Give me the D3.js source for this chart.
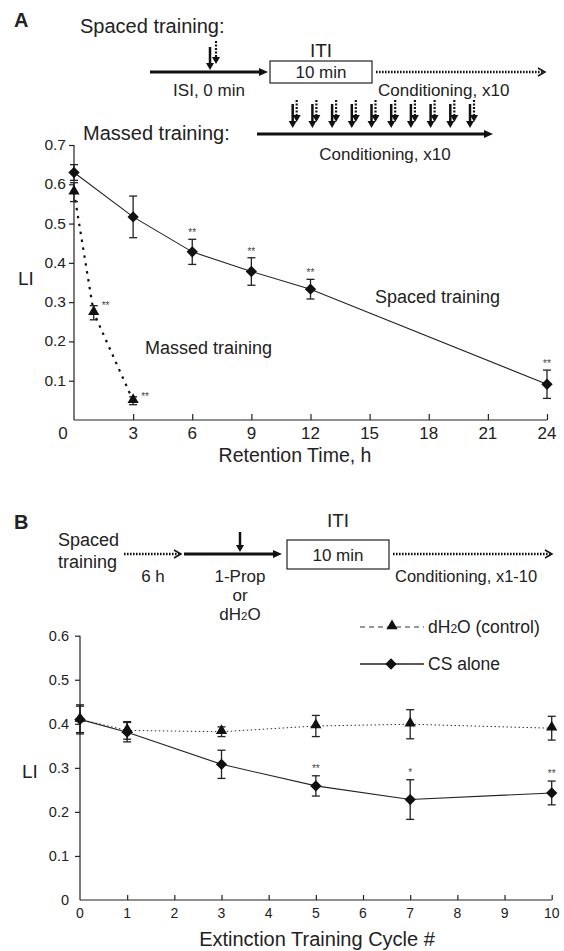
<!DOCTYPE html>
<html>
<head>
<meta charset="utf-8">
<script src="https://cdn.jsdelivr.net/npm/d3@7"></script>
<style>
  body { margin: 0; background: #fff; }
  svg { font-family: "Liberation Sans", Arial, sans-serif; fill: #222; }
  .axis path, .axis line { stroke: #222; stroke-width: 1.2; }
  .star { font-size: 10px; fill: #444; }
</style>
</head>
<body>
<div id="chart"></div>
<script>
// ---- panel A data ----
var retentionTicks = [0, 3, 6, 9, 12, 15, 18, 21, 24];
var liTicksA = [0.1, 0.2, 0.3, 0.4, 0.5, 0.6, 0.7];
var spacedHours = [0, 3, 6, 9, 12, 24];
var spacedLI = [0.63, 0.517, 0.428, 0.378, 0.333, 0.091];
var spacedErr = [0.02, 0.053, 0.032, 0.035, 0.025, 0.036];
var spacedSig = ["", "", "**", "**", "**", "**"];
var massedHours = [0, 1, 3];
var massedLI = [0.58, 0.273, 0.049];
var massedErr = [0.024, 0.018, 0.01];
var massedSig = ["", "**", "**"];

// ---- panel B data ----
var cycleTicks = [0, 1, 2, 3, 4, 5, 6, 7, 8, 9, 10];
var liTicksB = [0, 0.1, 0.2, 0.3, 0.4, 0.5, 0.6];
var cycles = [0, 1, 3, 5, 7, 10];
var csAloneLI = [0.41, 0.381, 0.308, 0.259, 0.228, 0.243];
var csAloneErr = [0.033, 0.022, 0.032, 0.023, 0.045, 0.027];
var csAloneSig = ["", "", "", "**", "*", "**"];
var waterLI = [0.41, 0.385, 0.382, 0.395, 0.399, 0.39];
var waterErr = [0.03, 0.02, 0.011, 0.024, 0.033, 0.027];

var w = 564, h = 951;
var svg = d3.select("#chart").append("svg")
    .attr("width", w)
    .attr("height", h);

var diamond = d3.symbol().type(d3.symbolSquare).size(64);
var triangle = d3.symbol().type(d3.symbolTriangle).size(55);

// little helpers for the protocol diagrams
function text(x, y, str, size, anchor, weight) {
    return svg.append("text")
        .attr("x", x).attr("y", y)
        .attr("font-size", size)
        .attr("text-anchor", anchor || "start")
        .attr("font-weight", weight || "normal")
        .text(str);
}
function solidArrow(x1, x2, y) { // horizontal, filled head
    svg.append("line").attr("x1", x1).attr("x2", x2 - 6).attr("y1", y).attr("y2", y)
        .attr("stroke", "#111").attr("stroke-width", 3);
    svg.append("path").attr("d", "M" + x2 + "," + y + "l-9,-4l0,8z").attr("fill", "#111");
}
function dottedArrow(x1, x2, y) { // horizontal, chevron head
    svg.append("line").attr("x1", x1).attr("x2", x2 - 2).attr("y1", y).attr("y2", y)
        .attr("stroke", "#111").attr("stroke-width", 2.5).attr("stroke-dasharray", "1.6,1.4");
    svg.append("path").attr("d", "M" + (x2 - 7) + "," + (y - 4) + "L" + x2 + "," + y + "L" + (x2 - 7) + "," + (y + 4))
        .attr("fill", "none").attr("stroke", "#111").attr("stroke-width", 1.5);
}
function downArrow(x, y1, y2, dotted) {
    svg.append("line").attr("x1", x).attr("x2", x).attr("y1", y1).attr("y2", y2 - 5)
        .attr("stroke", "#111").attr("stroke-width", dotted ? 2.2 : 2.5)
        .attr("stroke-dasharray", dotted ? "2,1.5" : null);
    svg.append("path").attr("d", "M" + x + "," + y2 + "l-4,-7l8,0z").attr("fill", "#111");
}

////////////////////////////////////////////////////////////
// PANEL A protocol diagram
text(14, 27, "A", 20, "start", "bold");
text(80, 33, "Spaced training:", 20);
text(321, 57, "ITI", 19, "middle");
solidArrow(150, 268, 72);
downArrow(210, 47, 70, false);
downArrow(216, 41, 64, true);
svg.append("rect").attr("x", 270).attr("y", 61).attr("width", 102).attr("height", 22)
    .attr("fill", "none").attr("stroke", "#222").attr("stroke-width", 1.2);
text(321, 78, "10 min", 17, "middle");
dottedArrow(376, 545, 72);
text(209, 96, "ISI, 0 min", 17, "middle");
text(378, 96, "Conditioning, x10", 17);

text(83, 140, "Massed training:", 20);
solidArrow(257, 493, 134);
d3.range(10).forEach(function (i) {
    var x = 292.7 + i * 19.7;
    downArrow(x, 104, 128, false);
    downArrow(x + 4, 100, 122, true);
});
text(385, 160, "Conditioning, x10", 17, "middle");

////////////////////////////////////////////////////////////
// PANEL A plot
var xA = d3.scaleLinear().domain([0, 24]).range([74, 547]);
var yA = d3.scaleLinear().domain([0, 0.7]).range([420, 145]);

svg.append("g").attr("class", "axis")
    .attr("transform", "translate(0," + yA(0) + ")")
    .call(d3.axisBottom(xA).tickValues(retentionTicks.slice(1)).tickSize(-6).tickFormat(""))
    .call(function (g) { g.select(".domain").attr("d", "M" + xA(0) + ",0H" + xA(24)); });
svg.append("g").attr("class", "axis")
    .attr("transform", "translate(" + xA(0) + ",0)")
    .call(d3.axisLeft(yA).tickValues(liTicksA).tickSize(5).tickFormat(""))
    .call(function (g) { g.select(".domain").attr("d", "M0," + yA(0) + "V" + yA(0.7)); });

svg.selectAll(".xlabA").data(retentionTicks).enter().append("text")
    .attr("x", function (d) { return d === 0 ? xA(d) - 11 : xA(d); })
    .attr("y", 439)
    .attr("text-anchor", "middle").attr("font-size", 17)
    .text(function (d) { return d; });
svg.selectAll(".ylabA").data(liTicksA).enter().append("text")
    .attr("x", 66).attr("y", function (d) { return yA(d) + 5; })
    .attr("text-anchor", "end").attr("font-size", 15.5)
    .text(function (d) { return d.toFixed(1); });
text(295, 462, "Retention Time, h", 19.5, "middle");
text(18, 285, "LI", 19);

// massed (dotted) line
var spacedPts = spacedHours.map(function (d, i) { return { x: d, y: spacedLI[i], e: spacedErr[i], s: spacedSig[i] }; });
var massedPts = massedHours.map(function (d, i) { return { x: d, y: massedLI[i], e: massedErr[i], s: massedSig[i] }; });
var lineA = d3.line().x(function (d) { return xA(d.x); }).y(function (d) { return yA(d.y); });

svg.append("path").datum(massedPts).attr("d", lineA)
    .attr("fill", "none").attr("stroke", "#111").attr("stroke-width", 2.2).attr("stroke-dasharray", "2.5,5.5");
svg.append("path").datum(spacedPts).attr("d", lineA)
    .attr("fill", "none").attr("stroke", "#222").attr("stroke-width", 1.1);

function errBars(pts, xs, ys) {
    var g = svg.append("g").attr("stroke", "#222").attr("stroke-width", 1.3);
    pts.forEach(function (d) {
        var x = xs(d.x);
        g.append("line").attr("x1", x).attr("x2", x).attr("y1", ys(d.y - d.e)).attr("y2", ys(d.y + d.e));
        g.append("line").attr("x1", x - 4).attr("x2", x + 4).attr("y1", ys(d.y - d.e)).attr("y2", ys(d.y - d.e));
        g.append("line").attr("x1", x - 4).attr("x2", x + 4).attr("y1", ys(d.y + d.e)).attr("y2", ys(d.y + d.e));
    });
}
errBars(massedPts, xA, yA);
errBars(spacedPts, xA, yA);

svg.selectAll(".triA").data(massedPts).enter().append("path")
    .attr("d", triangle)
    .attr("transform", function (d) { return "translate(" + xA(d.x) + "," + (yA(d.y) - 1) + ")"; })
    .attr("fill", "#111");
svg.selectAll(".diaA").data(spacedPts).enter().append("path")
    .attr("d", diamond)
    .attr("transform", function (d) { return "translate(" + xA(d.x) + "," + yA(d.y) + ") rotate(45)"; })
    .attr("fill", "#111");

svg.selectAll(".sigSpaced").data(spacedPts.filter(function (d) { return d.s; })).enter().append("text")
    .attr("class", "star").attr("text-anchor", "middle")
    .attr("x", function (d) { return xA(d.x); })
    .attr("y", function (d) { return yA(d.y + d.e) - 3; })
    .text(function (d) { return d.s; });
svg.selectAll(".sigMassed").data(massedPts.filter(function (d) { return d.s; })).enter().append("text")
    .attr("class", "star")
    .attr("x", function (d) { return xA(d.x) + 8; })
    .attr("y", function (d) { return yA(d.y + d.e) + 3; })
    .text(function (d) { return d.s; });

text(145, 354, "Massed training", 18);
text(375, 303, "Spaced training", 18);

////////////////////////////////////////////////////////////
// PANEL B protocol diagram
text(14, 529, "B", 20, "start", "bold");
text(58, 546, "Spaced", 18);
text(58, 568, "training", 18);
dottedArrow(124, 181, 554);
solidArrow(184, 282, 554);
downArrow(240, 532, 552, false);
svg.append("rect").attr("x", 287).attr("y", 540).attr("width", 102).attr("height", 29)
    .attr("fill", "none").attr("stroke", "#222").attr("stroke-width", 1.2);
text(338, 527, "ITI", 19, "middle");
text(338, 561, "10 min", 17, "middle");
dottedArrow(393, 552, 554);
text(153, 582, "6 h", 17, "middle");
text(240, 582, "1-Prop", 17, "middle");
text(240, 601, "or", 17, "middle");
var dh = text(240, 620, "", 17, "middle");
dh.append("tspan").text("dH");
dh.append("tspan").attr("font-size", 11.5).text("2");
dh.append("tspan").text("O");
text(395, 582, "Conditioning, x1-10", 16.5);

////////////////////////////////////////////////////////////
// PANEL B plot
var xB = d3.scaleLinear().domain([0, 10]).range([80, 551.7]);
var yB = d3.scaleLinear().domain([0, 0.6]).range([900, 635.7]);

svg.append("g").attr("class", "axis")
    .attr("transform", "translate(0," + yB(0) + ")")
    .call(d3.axisBottom(xB).tickValues(cycleTicks.slice(1)).tickSize(-5).tickFormat(""))
    .call(function (g) { g.select(".domain").attr("d", "M" + xB(0) + ",0H" + xB(10)); });
svg.append("g").attr("class", "axis")
    .attr("transform", "translate(" + xB(0) + ",0)")
    .call(d3.axisLeft(yB).tickValues(liTicksB.slice(1)).tickSize(5).tickFormat(""))
    .call(function (g) { g.select(".domain").attr("d", "M0," + yB(0) + "V" + yB(0.6)); });

svg.selectAll(".xlabB").data(cycleTicks).enter().append("text")
    .attr("x", function (d) { return xB(d); })
    .attr("y", 918)
    .attr("text-anchor", "middle").attr("font-size", 14)
    .text(function (d) { return d; });
svg.selectAll(".ylabB").data(liTicksB).enter().append("text")
    .attr("x", 69).attr("y", function (d) { return yB(d) + 5; })
    .attr("text-anchor", "end").attr("font-size", 14.5)
    .text(function (d) { return d === 0 ? "0" : d.toFixed(1); });
text(317, 946, "Extinction Training Cycle #", 20, "middle");
text(22, 778, "LI", 19);

var csPts = cycles.map(function (d, i) { return { x: d, y: csAloneLI[i], e: csAloneErr[i], s: csAloneSig[i] }; });
var waterPts = cycles.map(function (d, i) { return { x: d, y: waterLI[i], e: waterErr[i] }; });
var lineB = d3.line().x(function (d) { return xB(d.x); }).y(function (d) { return yB(d.y); });

svg.append("path").datum(waterPts).attr("d", lineB)
    .attr("fill", "none").attr("stroke", "#333").attr("stroke-width", 1).attr("stroke-dasharray", "1.5,2.5");
svg.append("path").datum(csPts).attr("d", lineB)
    .attr("fill", "none").attr("stroke", "#222").attr("stroke-width", 1.1);
errBars(waterPts, xB, yB);
errBars(csPts, xB, yB);

svg.selectAll(".diaB").data(csPts).enter().append("path")
    .attr("d", diamond)
    .attr("transform", function (d) { return "translate(" + xB(d.x) + "," + yB(d.y) + ") rotate(45)"; })
    .attr("fill", "#111");
svg.selectAll(".triB").data(waterPts).enter().append("path")
    .attr("d", triangle)
    .attr("transform", function (d) { return "translate(" + xB(d.x) + "," + (yB(d.y) - 1) + ")"; })
    .attr("fill", "#111");

svg.selectAll(".sigB").data(csPts.filter(function (d) { return d.s; })).enter().append("text")
    .attr("class", "star").attr("text-anchor", "middle")
    .attr("x", function (d) { return xB(d.x); })
    .attr("y", function (d) { return yB(d.y + d.e) - 4; })
    .text(function (d) { return d.s; });

// legend
svg.append("line").attr("x1", 360).attr("x2", 424).attr("y1", 627).attr("y2", 627)
    .attr("stroke", "#333").attr("stroke-width", 1).attr("stroke-dasharray", "5,4");
svg.append("path").attr("d", triangle).attr("transform", "translate(392,626)").attr("fill", "#111");
var lt = text(428, 633, "", 17.5);
lt.append("tspan").text("dH");
lt.append("tspan").attr("font-size", 12).text("2");
lt.append("tspan").text("O (control)");
svg.append("line").attr("x1", 360).attr("x2", 424).attr("y1", 664).attr("y2", 664)
    .attr("stroke", "#222").attr("stroke-width", 1.3);
svg.append("path").attr("d", diamond).attr("transform", "translate(391,664) rotate(45)").attr("fill", "#111");
text(428, 670, "CS alone", 17.5);
</script>
</body>
</html>
